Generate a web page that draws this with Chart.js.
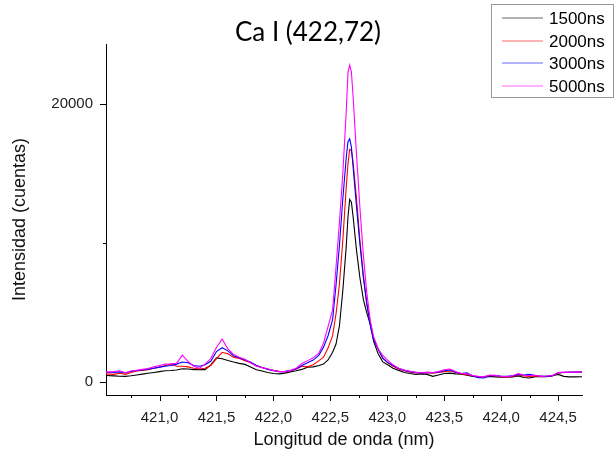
<!DOCTYPE html>
<html>
<head>
<meta charset="utf-8">
<script src="https://cdn.jsdelivr.net/npm/chart.js@4/dist/chart.umd.min.js"></script>
<style>
  html, body { margin: 0; padding: 0; background: #fff; }
  #grafica { display: block; }
</style>
</head>
<body>
<canvas id="grafica" width="614" height="459"></canvas>
<script>
// longitud de onda (nm)
let longitud = [
  420.53, 420.60, 420.65, 420.70, 420.75, 420.80, 420.85, 420.90, 420.95, 421.00,
  421.05, 421.10, 421.15, 421.20, 421.25, 421.30, 421.35, 421.40, 421.45, 421.50,
  421.55, 421.60, 421.65, 421.70, 421.75, 421.80, 421.85, 421.90, 421.95, 422.00,
  422.05, 422.10, 422.15, 422.20, 422.25, 422.30, 422.35, 422.40,
  422.44, 422.48, 422.52, 422.55, 422.58, 422.61, 422.64, 422.655, 422.67, 422.685,
  422.70, 422.73, 422.76, 422.79, 422.82, 422.85, 422.88, 422.92, 422.96,
  423.00, 423.05, 423.10, 423.15, 423.20, 423.25, 423.30, 423.35, 423.40, 423.45,
  423.50, 423.55, 423.60, 423.65, 423.70, 423.75, 423.80, 423.85, 423.90, 423.95,
  424.00, 424.05, 424.10, 424.15, 424.20, 424.25, 424.30, 424.35, 424.40, 424.45,
  424.50, 424.55, 424.60, 424.65, 424.71
];
let i1500 = [
  480, 450, 430, 420, 460, 520, 580, 640, 700, 760,
  820, 840, 880, 960, 950, 900, 900, 900, 1250, 1750,
  1680, 1560, 1450, 1350, 1280, 1100, 900, 800, 700, 620,
  600, 650, 740, 820, 920, 1080, 1100, 1200,
  1300, 1600, 2150, 2740, 4060, 6630, 9800, 11900, 13150, 12950,
  11900, 9480, 7490, 5950, 4990, 4170, 2930, 2040, 1460,
  1270, 1000, 850, 700, 620, 560, 600, 560, 420, 520,
  620, 650, 600, 580, 500, 420, 400, 380, 420, 380,
  360, 350, 380, 450, 340, 300, 400, 420, 400, 460,
  560, 420, 380, 380, 390
];
let i2000 = [
  600, 560, 640, 560, 700, 800, 850, 900, 1000, 1080,
  1200, 1300, 1150, 1150, 1100, 1000, 950, 1000, 1200, 1700,
  2150, 2050, 1800, 1700, 1550, 1400, 1200, 1050, 950, 850,
  780, 760, 820, 950, 1150, 1100, 1250, 1550,
  1800, 2450, 3350, 4920, 7040, 10250, 14070, 15700, 16750, 16650,
  15800, 13200, 10160, 7710, 5670, 4330, 3100, 2380, 1730,
  1420, 1150, 950, 820, 720, 680, 650, 680, 650, 700,
  760, 800, 700, 600, 560, 450, 380, 400, 480, 450,
  400, 380, 400, 520, 450, 420, 450, 400, 420, 450,
  650, 700, 700, 720, 720
];
let i3000 = [
  720, 700, 740, 660, 780, 840, 880, 940, 1000, 1080,
  1150, 1200, 1300, 1450, 1400, 1200, 1150, 1250, 1500, 2200,
  2480, 2250, 1900, 1750, 1600, 1450, 1200, 1050, 920, 820,
  760, 760, 840, 950, 1200, 1400, 1590, 1950,
  2520, 3340, 4500, 6990, 9850, 13230, 16180, 17300, 17500, 16900,
  15480, 12610, 9920, 7520, 5640, 4120, 3070, 2380, 1730,
  1440, 1200, 980, 850, 760, 700, 650, 700, 680, 720,
  820, 880, 720, 620, 680, 450, 330, 300, 460, 480,
  430, 420, 450, 560, 520, 560, 480, 430, 420, 470,
  680, 700, 720, 720, 720
];
let i5000 = [
  720, 760, 820, 680, 800, 860, 920, 980, 1100, 1200,
  1300, 1320, 1350, 1950, 1500, 1150, 1000, 1300, 1700, 2500,
  3100, 2400, 2000, 1800, 1650, 1400, 1150, 1050, 950, 850,
  760, 760, 850, 1000, 1350, 1550, 1750, 2100,
  2810, 3990, 5200, 8285, 11500, 15050, 19520, 22300, 22800, 22300,
  20550, 16370, 12530, 9150, 6440, 4470, 3270, 2400, 1920,
  1610, 1250, 1000, 880, 780, 720, 680, 720, 700, 760,
  900, 950, 760, 620, 600, 480, 420, 380, 520, 500,
  420, 400, 460, 620, 500, 480, 500, 420, 440, 480,
  700, 720, 720, 730, 720
];
let etiquetas = ['1500ns', '2000ns', '3000ns', '5000ns'];
let colores = ['#000000', '#ff0000', '#0000ff', '#ff00ff'];
let ticksX = [420.75, 421.0, 421.25, 421.5, 421.75, 422.0, 422.25, 422.5, 422.75,
  423.0, 423.25, 423.5, 423.75, 424.0, 424.25, 424.5];
let ticksY = [0, 10000, 20000];
let titulo = 'Ca I (422,72)';

let series = [i1500, i2000, i3000, i5000];

function puntos(ys){
  return longitud.map((x, i) => ({x: x, y: ys[i]}));
}

let esMayorX = v => Math.abs(v * 2 - Math.round(v * 2)) < 1e-6;
let esMayorY = v => v % 20000 === 0;

// ticks mayores y menores dibujados a mano (largo distinto), titulo y leyenda
let marcas = {
  id: 'marcas',
  afterDraw(chart){
    let ctx = chart.ctx;
    let area = chart.chartArea;
    let sx = chart.scales.x, sy = chart.scales.y;
    ctx.save();
    ctx.strokeStyle = '#000';
    ctx.lineWidth = 1;
    ctx.beginPath();
    ticksX.forEach(v => {
      let px = Math.round(sx.getPixelForValue(v)) + 0.5;
      let len = esMayorX(v) ? 6 : 3;
      ctx.moveTo(px, area.bottom);
      ctx.lineTo(px, area.bottom + len);
    });
    ticksY.forEach(v => {
      let py = Math.round(sy.getPixelForValue(v)) + 0.5;
      let len = esMayorY(v) ? 6 : 3;
      ctx.moveTo(area.left, py);
      ctx.lineTo(area.left - len, py);
    });
    ctx.stroke();

    ctx.fillStyle = '#000';
    ctx.font = '26px Lato';
    ctx.textAlign = 'center';
    ctx.textBaseline = 'middle';
    ctx.fillText(titulo, 308, 33);

    ctx.strokeStyle = '#999';
    ctx.strokeRect(491.5, 4.5, 122, 93);
    ctx.font = '17px Arial';
    ctx.textAlign = 'left';
    chart.data.datasets.forEach((ds, i) => {
      let y = Math.round(18 + i * 22.6);
      ctx.beginPath();
      ctx.strokeStyle = ds.borderColor;
      ctx.globalAlpha = 0.6;
      ctx.moveTo(502, y);
      ctx.lineTo(543, y);
      ctx.stroke();
      ctx.globalAlpha = 1;
      ctx.fillStyle = '#000';
      ctx.fillText(ds.label, 549, y + 1);
    });
    ctx.restore();
  }
};

let grafica = document.querySelector('#grafica').getContext('2d');

let chart = new Chart(grafica, {
  type: 'line',
  data: {
    datasets: series.map((s, i) => ({
      label: etiquetas[i],
      data: puntos(s),
      borderColor: colores[i],
      borderWidth: 1.1,
      pointRadius: 0,
      tension: 0,
      fill: false,
      order: 3 - i
    }))
  },
  options: {
    responsive: false,
    animation: false,
    devicePixelRatio: 1,
    layout: { padding: { top: 44, right: 32, bottom: 0, left: 0 } },
    plugins: {
      legend: { display: false },
      title: { display: false },
      tooltip: { enabled: false }
    },
    scales: {
      x: {
        type: 'linear',
        min: 420.53,
        max: 424.71,
        afterBuildTicks: s => { s.ticks = ticksX.map(v => ({value: v})); },
        afterFit: s => { s.height = 64; },
        grid: { display: false, drawTicks: true, tickLength: 6 },
        border: { display: true, color: '#000', width: 1 },
        ticks: {
          autoSkip: false,
          maxRotation: 0,
          padding: 8,
          color: '#222',
          font: { family: 'Arial', size: 15 },
          callback: v => esMayorX(v) ? v.toFixed(1).replace('.', ',') : ''
        },
        title: {
          display: true,
          text: 'Longitud de onda (nm)',
          color: '#111',
          font: { family: 'Arial', size: 18 },
          padding: { top: 0, bottom: 8 }
        }
      },
      y: {
        type: 'linear',
        min: -922,
        max: 24321,
        afterBuildTicks: s => { s.ticks = ticksY.map(v => ({value: v})); },
        afterFit: s => { s.width = 106; },
        grid: { display: false, drawTicks: true, tickLength: 6 },
        border: { display: true, color: '#000', width: 1 },
        ticks: {
          autoSkip: false,
          padding: 7,
          color: '#222',
          font: { family: 'Arial', size: 15 },
          callback: v => esMayorY(v) ? String(v) : ''
        },
        title: {
          display: true,
          text: 'Intensidad (cuentas)',
          color: '#111',
          font: { family: 'Arial', size: 18 },
          padding: { top: 9, bottom: 0 }
        }
      }
    }
  },
  plugins: [marcas]
});
</script>
</body>
</html>
